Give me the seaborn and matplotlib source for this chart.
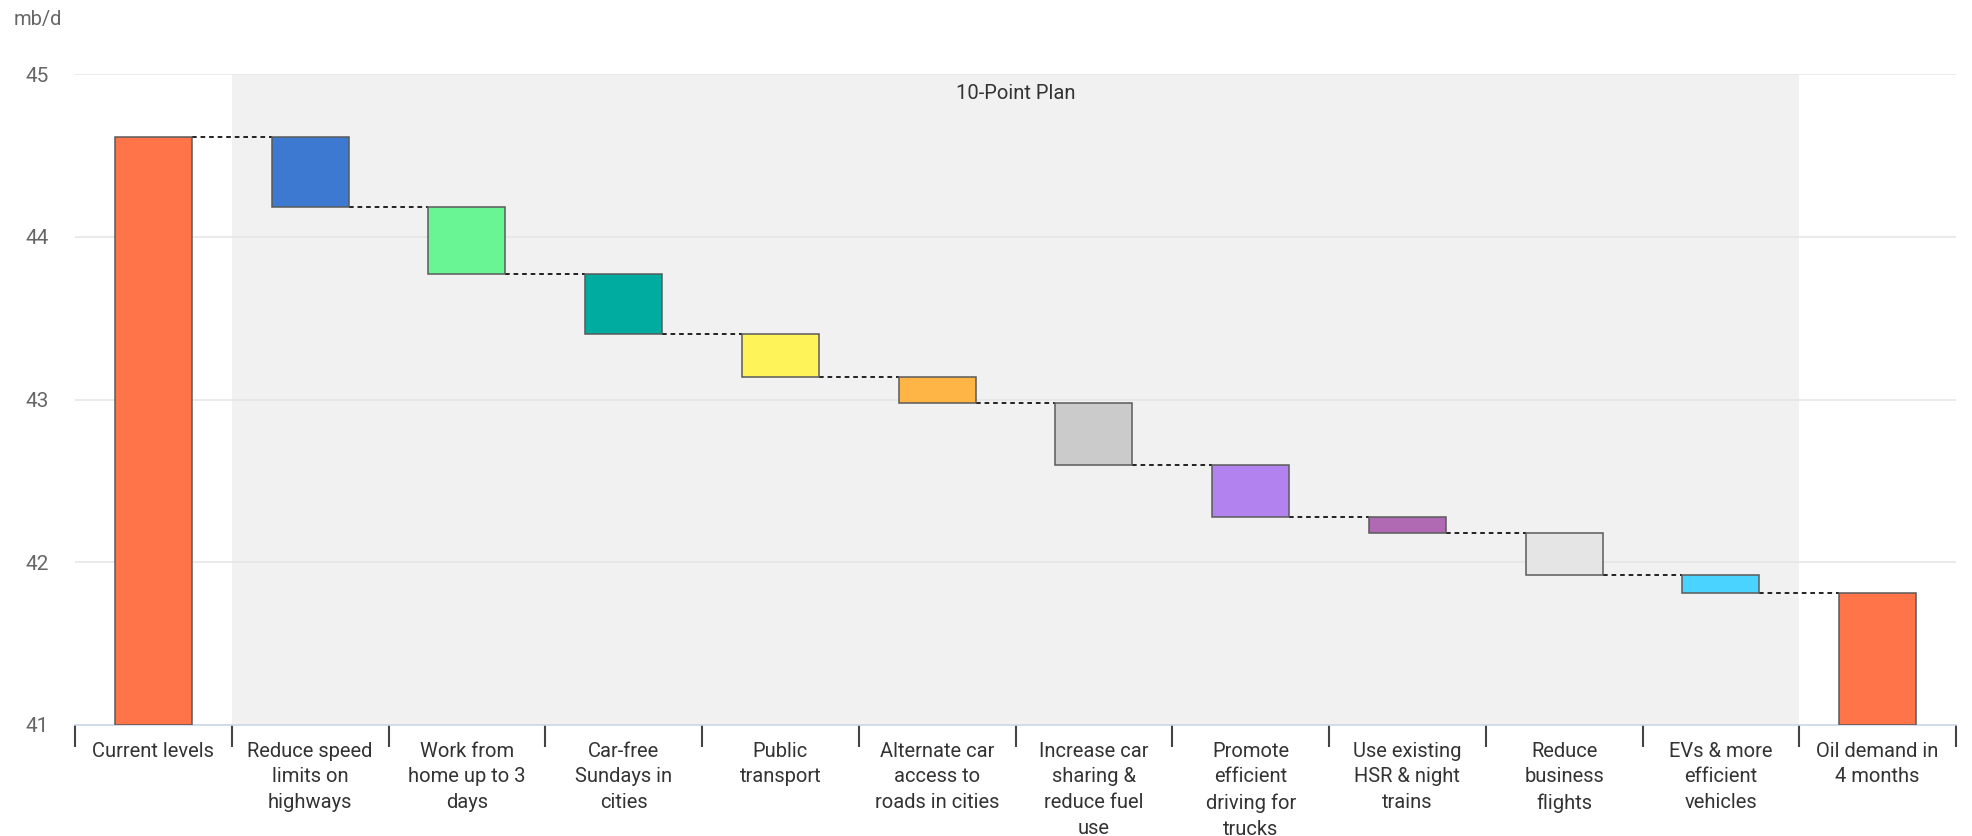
import numpy as np
import pandas as pd
import matplotlib
matplotlib.use("Agg")
import matplotlib.pyplot as plt
import seaborn as sns

# ---- data ----
categories = [
    "Current levels",
    "Reduce speed\nlimits on\nhighways",
    "Work from\nhome up to 3\ndays",
    "Car-free\nSundays in\ncities",
    "Public\ntransport",
    "Alternate car\naccess to\nroads in cities",
    "Increase car\nsharing &\nreduce fuel\nuse",
    "Promote\nefficient\ndriving for\ntrucks",
    "Use existing\nHSR & night\ntrains",
    "Reduce\nbusiness\nflights",
    "EVs & more\nefficient\nvehicles",
    "Oil demand in\n4 months",
]
start_level = 44.61
reductions = [0.43, 0.41, 0.37, 0.26, 0.16, 0.38, 0.32, 0.10, 0.26, 0.11]
bar_colors = ["#ff7549", "#3d78d1", "#6af594", "#00ab9f", "#fff35a", "#ffb545",
              "#cbcbcb", "#b283ee", "#b06ab3", "#e5e5e5", "#4ad3ff", "#ff7549"]
y_ticks = [41, 42, 43, 44, 45]
span_label = "10-Point Plan"
unit_label = "mb/d"

# ---- derived waterfall geometry ----
levels = [start_level]
for r in reductions:
    levels.append(levels[-1] - r)
end_level = levels[-1]
ymin = y_ticks[0]

bottoms = [ymin] + [levels[i + 1] for i in range(len(reductions))] + [ymin]
tops = [start_level] + [levels[i] for i in range(len(reductions))] + [end_level]
heights = [t - b for t, b in zip(tops, bottoms)]

df = pd.DataFrame({"cat": categories, "height": heights, "bottom": bottoms})

# ---- plot ----
sns.set_theme(style="white")
plt.rcParams["font.family"] = ["Roboto", "DejaVu Sans"]

fig = plt.figure(figsize=(19.72, 8.36), dpi=100)
ax = fig.add_axes([75 / 1972, 1 - 725 / 836, (1956 - 75) / 1972, (725 - 74) / 836])

bw = 0.49
ax.axvspan(0.5, 10.5, color="#f1f1f1", zorder=0, lw=0)

sns.barplot(data=df, x="cat", y="height", bottom=df["bottom"].values, width=bw,
            color="#888888", edgecolor="#5a5a5a", linewidth=1.1, ax=ax, zorder=3,
            order=categories)
for p, c in zip(ax.containers[0].patches, bar_colors):
    p.set_facecolor(c)

# connectors
for i in range(len(categories) - 1):
    lvl = tops[i] if i == 0 else bottoms[i]
    ax.hlines(lvl, i + bw / 2, i + 1 - bw / 2, colors="#222222",
              linestyles=(0, (2.4, 2.0)), linewidth=1.4, zorder=2)

ax.set_xlim(-0.5, len(categories) - 0.5)
ax.set_ylim(y_ticks[0], y_ticks[-1])
ax.set_yticks(y_ticks)
ax.set_yticklabels([str(v) for v in y_ticks], color="#666666", fontsize=15)
ax.yaxis.grid(True, color="#e6e6e6", linewidth=1.2, zorder=1)
ax.set_axisbelow(True)
ax.tick_params(axis="y", length=0, pad=19)

ax.set_xticks(range(len(categories)))
ax.set_xticklabels(categories, fontsize=14.5, color="#333333", linespacing=1.45,
                   va="top")
ax.set_xticks(np.arange(-0.5, len(categories), 1.0), minor=True)
ax.tick_params(axis="x", which="major", bottom=True, length=0, pad=12)
ax.tick_params(axis="x", which="minor", bottom=True, length=16, width=1.5,
               color="#444444", direction="out")
ax.set_xlabel("")
ax.set_ylabel("")

for s in ["top", "right", "left"]:
    ax.spines[s].set_visible(False)
ax.spines["bottom"].set_color("#ccd6eb")
ax.spines["bottom"].set_linewidth(1.2)

ax.text(5.5, 44.88, span_label, ha="center", va="center", fontsize=14.5,
        color="#333333", zorder=4)
fig.text(14 / 1972, 1 - 19 / 836, unit_label, ha="left", va="center",
         fontsize=14.5, color="#666666")

fig.savefig("out.png", dpi=100, facecolor="white")
